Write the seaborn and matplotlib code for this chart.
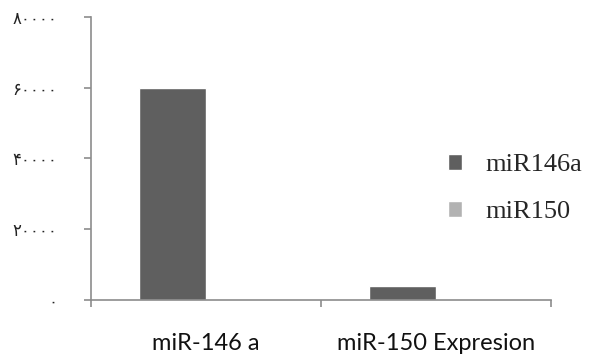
import matplotlib
matplotlib.use("Agg")
import matplotlib.pyplot as plt
import seaborn as sns
import pandas as pd

categories = ["miR-146 a", "miR-150 Expresion"]
series_names = ["miR146a", "miR150"]
mir146a_values = [60000, 4000]
mir150_values = [0, 0]
ytick_values = [0, 20000, 40000, 60000, 80000]
ytick_labels = ["۰", "۲۰۰۰۰", "۴۰۰۰۰", "۶۰۰۰۰", "۸۰۰۰۰"]
colors = ["#5f5f5f", "#b2b2b2"]

df = pd.DataFrame({
    "category": categories * 2,
    "series": [series_names[0]] * 2 + [series_names[1]] * 2,
    "value": mir146a_values + mir150_values,
})

sns.set_style("white")
plt.rcParams["font.family"] = ["DejaVu Sans"]

fig = plt.figure(figsize=(5.92, 3.56), dpi=100)
ax = fig.add_axes([0.1537, 0.1573, 0.777, 0.795])

sns.barplot(data=df, x="category", y="value", hue="series", order=categories,
            hue_order=series_names, palette=colors, width=0.58, gap=0,
            saturation=1, ax=ax, legend=True)

ax.set_xlim(-0.5, 1.5)
ax.set_ylim(0, 80000)
ax.set_xlabel("")
ax.set_ylabel("")

spine_color = "#8c8c8c"
for side in ["top", "right"]:
    ax.spines[side].set_visible(False)
for side in ["left", "bottom"]:
    ax.spines[side].set_color(spine_color)
    ax.spines[side].set_linewidth(1.2)

ax.set_yticks(ytick_values)
ax.set_yticklabels(ytick_labels, fontsize=12, color="#222222")
ax.tick_params(axis="y", direction="out", length=5, width=1.2, color=spine_color,
               left=True, pad=19)

# category boundaries carry the x ticks; names sit centred under each group
ax.set_xticks([-0.5, 0.5, 1.5])
ax.set_xticklabels([])
ax.tick_params(axis="x", direction="out", length=5, width=1.2, color=spine_color,
               bottom=True)
for i, name in enumerate(categories):
    ax.text(i, -0.155, name, transform=ax.get_xaxis_transform(),
            ha="center", va="center", fontsize=17, family="Lato",
            color="#111111")

handles, labels = ax.get_legend_handles_labels()
ax.legend(handles, labels, loc="center left", bbox_to_anchor=(0.716, 0.47),
          bbox_transform=fig.transFigure, frameon=False,
          prop={"family": "Liberation Serif", "size": 19},
          handlelength=0.55, handleheight=0.55, handletextpad=0.9,
          labelspacing=0.95)

fig.savefig("out.png", dpi=100)
